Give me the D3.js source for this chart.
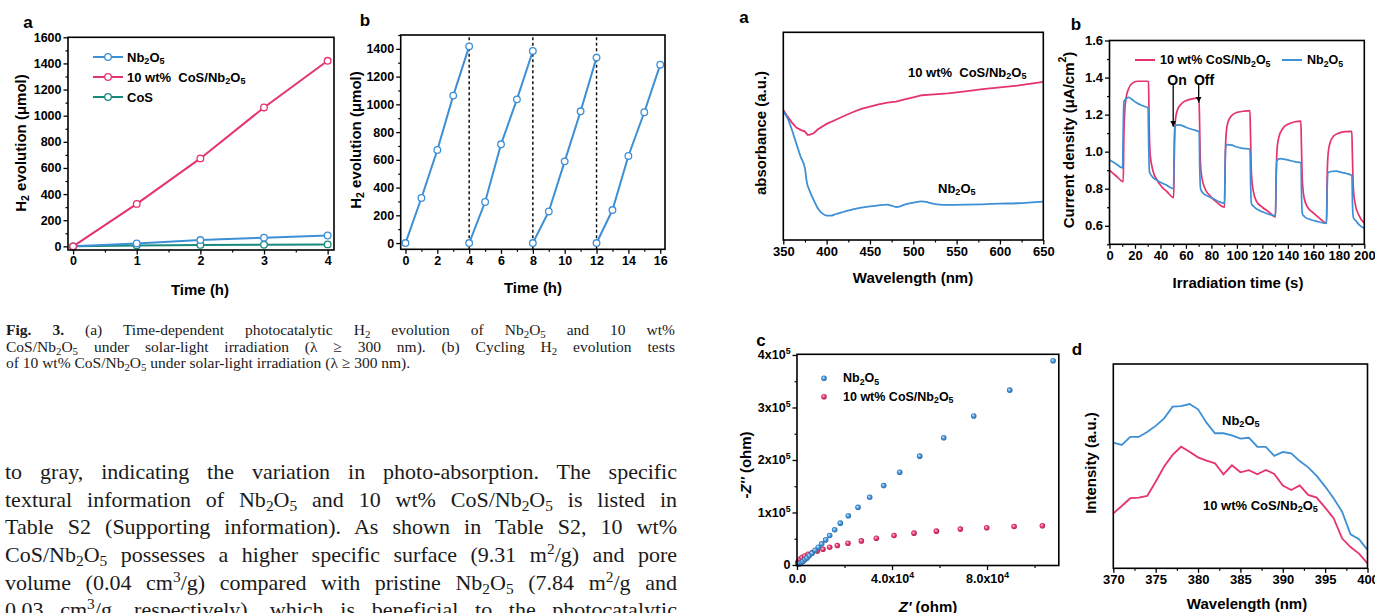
<!DOCTYPE html>
<html><head><meta charset="utf-8">
<script src="https://cdn.jsdelivr.net/npm/d3@7"></script>
<style>
html,body{margin:0;padding:0;background:#fff;width:1375px;height:613px;overflow:hidden;}
#chart{position:absolute;left:0;top:0;}
.ln{position:absolute;font-family:"Liberation Serif","Times New Roman",serif;color:#1a1a1a;text-align:justify;text-align-last:justify;white-space:normal;overflow:visible;}
.ln.last{text-align-last:left;}
.ln sub{font-size:0.7em;vertical-align:-0.28em;line-height:0;}
.ln sup{font-size:0.7em;vertical-align:0.5em;line-height:0;}
</style></head><body>
<svg id="chart" width="1375" height="613"></svg>
<div id="text"></div>
<script>
// ---------- DATA ----------
// Fig 3a : time-dependent H2 evolution
const timeH = [0, 1, 2, 3, 4];
const h2Nb = [0, 22, 48, 66, 83];
const h2CoSNb = [0, 325, 673, 1063, 1420];
const h2CoS = [0, 7, 11, 12, 15];

// Fig 3b : cycling tests
const cycleTime = [[0,1,2,3,4],[4,5,6,7,8],[8,9,10,11,12],[12,13,14,15,16]];
const cycleH2 = [[0,325,671,1063,1418],[0,296,712,1036,1385],[0,228,589,950,1337],[0,238,628,943,1286]];
const cycleBreaks = [4, 8, 12];

// UV-vis absorbance (a.u.)
const absWl = [350,355,360,365,370,375,378,380,385,390,400,410,420,430,440,450,460,470,480,490,500,510,520,540,560,580,600,620,650];
const absCoSNb = [62.6,59.4,56.5,54.1,53.0,52.2,50.6,50.6,51.4,53.3,55.9,57.8,59.7,61.5,63.1,64.2,65.3,66.1,66.6,67.7,68.7,69.7,70.0,70.6,71.6,72.6,73.5,74.3,76.1];
const absWlNb = [350,355,360,365,370,375,377,380,385,390,395,400,405,410,420,430,440,450,460,470,475,480,485,490,500,510,515,520,530,540,560,580,600,620,650];
const absNb = [61.8,58.6,53.0,46.5,40.1,34.5,28.1,24.1,19.3,15.2,12.8,11.7,11.7,12.4,13.6,14.8,15.6,16.2,16.7,17.0,16.5,15.9,16.2,17.0,18.0,18.6,18.3,17.7,17.0,16.9,17.0,17.2,17.5,17.7,18.5];

// Transient photocurrent (uA/cm2)
const pcTimeCoSNb = [0,5,10,10.8,11.2,12,13,15,18,22,30,30.6,31.2,32,34,37,41,45,50.4,50.8,51.5,53,56,60,65,70.2,70.6,71.3,72.5,75,79,84,90.3,90.8,91.6,93,96,100,105,110.2,110.6,111.4,112.8,115.5,120,125,130.3,130.8,131.6,133,136,140,145,150.2,150.6,151.4,152.8,155.5,160,165,170.3,170.8,171.6,173,176,180,185,190.2,190.6,191.4,192.8,195.5,200];
const pcCoSNb = [0.901,0.87,0.84,0.838,1.05,1.22,1.29,1.34,1.37,1.38,1.38,1.378,1.12,0.98,0.90,0.85,0.81,0.785,0.752,0.95,1.15,1.22,1.255,1.275,1.285,1.29,1.2,0.95,0.86,0.80,0.76,0.728,0.70,0.95,1.10,1.16,1.195,1.212,1.218,1.222,1.12,0.88,0.79,0.73,0.70,0.675,0.648,0.86,1.02,1.08,1.125,1.148,1.16,1.165,1.05,0.84,0.75,0.70,0.67,0.64,0.615,0.85,0.99,1.045,1.085,1.10,1.108,1.11,1.0,0.80,0.72,0.66,0.615];
const pcTimeNb = [0,5,10.3,10.7,11.3,13,15,18,21,25,30.3,30.7,31.4,33,36,40,45,50.3,50.7,51.3,53,56,60,65,70.4,70.8,71.5,73,77,82,86,90.3,90.7,91.3,93,96,100,105,110.3,110.7,111.4,113,117,122,130.3,130.7,131.3,134,138,142,146,150.3,150.7,151.4,153,157,162,170.4,170.8,171.4,174,178,182,186,190.3,190.7,191.4,193,196,200];
const pcNb = [0.955,0.935,0.912,1.10,1.27,1.285,1.293,1.28,1.265,1.25,1.236,1.05,0.89,0.87,0.85,0.835,0.818,0.80,1.0,1.135,1.145,1.143,1.132,1.12,1.107,0.92,0.80,0.78,0.76,0.745,0.73,0.722,0.9,1.03,1.038,1.035,1.025,1.018,1.012,0.85,0.72,0.705,0.685,0.67,0.655,0.82,0.952,0.962,0.958,0.951,0.945,0.94,0.78,0.665,0.65,0.635,0.625,0.613,0.78,0.887,0.893,0.895,0.888,0.882,0.872,0.72,0.645,0.63,0.605,0.585];

// EIS Nyquist (ohm)
const eisZreNb = [560,1120,1820,2530,3370,4210,5190,6320,7580,8980,10390,12070,13750,15860,18250,21610,25680,30600,36490,43230,51650,61750,74390,89540,107800];
const eisZimNb = [1300,2550,4500,7000,10200,13400,17900,22300,28100,33800,40200,47800,56100,67000,79700,93800,109700,128900,151200,176700,207300,242400,283900,333000,389100];
const eisZreCoSNb = [280,700,1260,2100,3230,4630,6460,8560,10950,13750,16980,21470,27090,33400,40840,49260,58670,68770,79860,91400,103300];
const eisZimCoSNb = [4500,7650,10800,14000,17200,20400,23600,26800,30000,33800,37000,41500,45900,51000,56100,60600,64400,68300,70800,73400,74600];

// PL spectra (a.u.)
const plWl = [370,371,372,373,374,375,376,377,378,379,380,381,382,383,384,385,386,387,388,389,390,391,392,393,394,395,396,397,398,399,400];
const plNb = [61.5,60.4,64.3,64.3,66.7,69.7,73.4,79.1,79.4,80.4,77.8,71.3,66.1,66.1,65.1,63.5,63.9,59.5,59.4,55.0,56.9,56.3,52.5,49.4,45.2,40.0,34.3,27.7,16.6,14.2,9.0];
const plCoSNb = [26.9,30.5,34.3,34.6,35.4,42.4,49.8,55.5,59.5,57.1,54.3,52.7,51.4,46.0,50.4,47.0,48.0,46.0,48.1,46.2,40.5,38.3,40.6,35.9,34.6,29.7,24.5,14.7,10.4,7.2,2.4];

// tick labels
const laXTicks = [0,1,2,3,4];
const laYTicks = [0,200,400,600,800,1000,1200,1400,1600];
const lbXTicks = [0,2,4,6,8,10,12,14,16];
const lbYTicks = [0,200,400,600,800,1000,1200,1400];
const raXTicks = [350,400,450,500,550,600,650];
const rbXTicks = [0,20,40,60,80,100,120,140,160,180,200];
const rbYTicks = [0.6,0.8,1.0,1.2,1.4,1.6];
const rcXTicks = [0,40000,80000];
const rcXLabels = ["0.0","4.0x10^{4}","8.0x10^{4}"];
const rcYTicks = [0,100000,200000,300000,400000];
const rcYLabels = ["0","1x10^{5}","2x10^{5}","3x10^{5}","4x10^{5}"];
const rdXTicks = [370,375,380,385,390,395,400];

// text
const captionLines = [
  '<b>Fig. 3.</b> (a) Time-dependent photocatalytic H<sub>2</sub> evolution of Nb<sub>2</sub>O<sub>5</sub> and 10 wt%',
  'CoS/Nb<sub>2</sub>O<sub>5</sub> under solar-light irradiation (λ ≥ 300 nm). (b) Cycling H<sub>2</sub> evolution tests',
  'of 10 wt% CoS/Nb<sub>2</sub>O<sub>5</sub> under solar-light irradiation (λ ≥ 300 nm).'
];
const bodyLines = [
  'to gray, indicating the variation in photo-absorption. The specific',
  'textural information of Nb<sub>2</sub>O<sub>5</sub> and 10 wt% CoS/Nb<sub>2</sub>O<sub>5</sub> is listed in',
  'Table S2 (Supporting information). As shown in Table S2, 10 wt%',
  'CoS/Nb<sub>2</sub>O<sub>5</sub> possesses a higher specific surface (9.31 m<sup>2</sup>/g) and pore',
  'volume (0.04 cm<sup>3</sup>/g) compared with pristine Nb<sub>2</sub>O<sub>5</sub> (7.84 m<sup>2</sup>/g and',
  '0.03 cm<sup>3</sup>/g, respectively), which is beneficial to the photocatalytic'
];

// ---------- DRAW ----------
const BLUE = "#3d8fd6", PINK = "#e6336e", TEAL = "#178a7c";
const FONT = "'Liberation Sans', Arial, Helvetica, sans-serif";
const svg = d3.select('#chart');

function rich(sel, str, fs) {
  const parts = str.split(/(_\{[^}]*\}|\^\{[^}]*\}|\*[^*]*\*)/).filter(s => s.length);
  let shift = 0;
  parts.forEach(p => {
    let t, target = 0, size = null, italic = false;
    if (p.startsWith('_{')) { t = p.slice(2, -1); target = fs * 0.3; size = fs * 0.7; }
    else if (p.startsWith('^{')) { t = p.slice(2, -1); target = -fs * 0.4; size = fs * 0.7; }
    else if (p.startsWith('*')) { t = p.slice(1, -1); italic = true; }
    else t = p;
    const ts = sel.append('tspan').text(t);
    if (target !== shift) { ts.attr('dy', target - shift); shift = target; }
    if (size) ts.attr('font-size', size);
    if (italic) ts.attr('font-style', 'italic');
  });
}
function label(x, y, str, fs, opts = {}) {
  const t = svg.append('text')
    .attr('x', x).attr('y', y)
    .attr('font-family', FONT).attr('font-weight', 'bold')
    .attr('font-size', fs).attr('fill', '#000')
    .attr('dominant-baseline', 'central')
    .attr('text-anchor', opts.anchor || 'start')
    .style('white-space', 'pre');
  if (opts.rotate) t.attr('transform', `rotate(-90,${x},${y})`);
  rich(t, str, fs);
  return t;
}
function axis(orient, scale, pos, major, minor, fmt, fs) {
  const mk = orient === 'bottom' ? d3.axisBottom : d3.axisLeft;
  const tr = orient === 'bottom' ? `translate(0,${pos})` : `translate(${pos},0)`;
  if (minor) {
    const gm = svg.append('g').attr('transform', tr)
      .call(mk(scale).tickValues(minor).tickSize(2.5).tickSizeOuter(0).tickFormat(''));
    gm.select('.domain').remove();
    gm.selectAll('line').attr('stroke', '#000').attr('stroke-width', 1.2);
  }
  const g = svg.append('g').attr('transform', tr)
    .call(mk(scale).tickValues(major).tickSize(4.5).tickSizeOuter(0).tickPadding(2).tickFormat(fmt || (d => d)));
  g.select('.domain').remove();
  g.selectAll('line').attr('stroke', '#000').attr('stroke-width', 1.3);
  g.selectAll('text').attr('font-family', FONT).attr('font-weight', 'bold')
    .attr('font-size', fs).attr('fill', '#000');
  return g;
}
function frame(x, y) {
  svg.append('rect')
    .attr('x', x.range()[0]).attr('y', y.range()[1])
    .attr('width', x.range()[1] - x.range()[0]).attr('height', y.range()[0] - y.range()[1])
    .attr('fill', 'none').attr('stroke', '#000').attr('stroke-width', 1.6);
}
function range(a, b, s) { return d3.range(a, b + s / 2, s); }
function openMarkers(xs, ys, x, y, color) {
  svg.append('g').selectAll('circle').data(xs).join('circle')
    .attr('cx', (d) => x(d)).attr('cy', (d, i) => y(ys[i])).attr('r', 3.3)
    .attr('fill', '#fff').attr('stroke', color).attr('stroke-width', 1.3);
}

// ===== Left panel a =====
{
  const x = d3.scaleLinear().domain([-0.08, 4.1]).range([68, 334]);
  const y = d3.scaleLinear().domain([-28, 1600]).range([250, 37.3]);
  const series = [[h2CoS, TEAL], [h2Nb, BLUE], [h2CoSNb, PINK]];
  series.forEach(([vals, c]) => {
    svg.append('path').datum(vals)
      .attr('d', d3.line().x((d, i) => x(timeH[i])).y(d => y(d)))
      .attr('fill', 'none').attr('stroke', c).attr('stroke-width', 2);
    openMarkers(timeH, vals, x, y, c);
  });
  axis('bottom', x, 250, laXTicks, range(0.5, 3.5, 1), null, 12.5);
  axis('left', y, 68, laYTicks, range(100, 1500, 200), null, 12.5);
  frame(x, y);
  const leg = [["Nb_{2}O_{5}", BLUE], ["10 wt%  CoS/Nb_{2}O_{5}", PINK], ["CoS", TEAL]];
  leg.forEach(([t, c], i) => {
    const yy = 57 + i * 20;
    svg.append('line').attr('x1', 93).attr('x2', 123).attr('y1', yy).attr('y2', yy)
      .attr('stroke', c).attr('stroke-width', 2);
    svg.append('circle').attr('cx', 108).attr('cy', yy).attr('r', 3.3)
      .attr('fill', '#fff').attr('stroke', c).attr('stroke-width', 1.3);
    label(127, yy, t, 13);
  });
  label(28, 22, "a", 17, { anchor: 'middle' });
  label(20, 143, "H_{2} evolution (μmol)", 15, { anchor: 'middle', rotate: true });
  label(200, 289, "Time (h)", 15, { anchor: 'middle' });
}

// ===== Left panel b =====
{
  const x = d3.scaleLinear().domain([-0.3, 16.3]).range([400.7, 665]);
  const y = d3.scaleLinear().domain([-45, 1500]).range([249.3, 35]);
  cycleBreaks.forEach(t => {
    svg.append('line').attr('x1', x(t)).attr('x2', x(t)).attr('y1', y.range()[0]).attr('y2', y.range()[1])
      .attr('stroke', '#000').attr('stroke-width', 1.4).attr('stroke-dasharray', '3,2.5');
  });
  cycleTime.forEach((ts, k) => {
    svg.append('path').datum(cycleH2[k])
      .attr('d', d3.line().x((d, i) => x(ts[i])).y(d => y(d)))
      .attr('fill', 'none').attr('stroke', BLUE).attr('stroke-width', 2);
    openMarkers(ts, cycleH2[k], x, y, BLUE);
  });
  axis('bottom', x, 249.3, lbXTicks, range(1, 15, 2), null, 12.5);
  axis('left', y, 400.7, lbYTicks, range(100, 1500, 200), null, 12.5);
  frame(x, y);
  label(365, 20, "b", 17, { anchor: 'middle' });
  label(355, 140, "H_{2} evolution (μmol)", 15, { anchor: 'middle', rotate: true });
  label(533, 287, "Time (h)", 15, { anchor: 'middle' });
}

// ===== Right panel a: absorbance =====
{
  const x = d3.scaleLinear().domain([350, 650]).range([783.3, 1043.3]);
  const y = d3.scaleLinear().domain([0, 100]).range([240, 32.3]);
  svg.append('path').datum(absCoSNb)
    .attr('d', d3.line().x((d, i) => x(absWl[i])).y(d => y(d)))
    .attr('fill', 'none').attr('stroke', PINK).attr('stroke-width', 1.8);
  svg.append('path').datum(absNb)
    .attr('d', d3.line().x((d, i) => x(absWlNb[i])).y(d => y(d)).curve(d3.curveMonotoneX))
    .attr('fill', 'none').attr('stroke', BLUE).attr('stroke-width', 1.8);
  axis('bottom', x, 240, raXTicks, range(375, 625, 50), null, 13);
  frame(x, y);
  label(908, 72, "10 wt%  CoS/Nb_{2}O_{5}", 13);
  label(938, 188, "Nb_{2}O_{5}", 13);
  label(744, 17, "a", 17, { anchor: 'middle' });
  label(760, 133, "absorbance (a.u.)", 15, { anchor: 'middle', rotate: true });
  label(913, 277, "Wavelength (nm)", 15, { anchor: 'middle' });
}

// ===== Right panel b: photocurrent =====
{
  const x = d3.scaleLinear().domain([0, 200]).range([1109.5, 1364.3]);
  const y = d3.scaleLinear().domain([0.5, 1.6]).range([244.3, 40.5]);
  svg.append('path').datum(pcCoSNb)
    .attr('d', d3.line().x((d, i) => x(pcTimeCoSNb[i])).y(d => y(d)).curve(d3.curveMonotoneX))
    .attr('fill', 'none').attr('stroke', PINK).attr('stroke-width', 1.7);
  svg.append('path').datum(pcNb)
    .attr('d', d3.line().x((d, i) => x(pcTimeNb[i])).y(d => y(d)).curve(d3.curveMonotoneX))
    .attr('fill', 'none').attr('stroke', BLUE).attr('stroke-width', 1.7);
  axis('bottom', x, 244.3, rbXTicks, range(10, 190, 20), null, 13);
  axis('left', y, 1109.5, rbYTicks, range(0.5, 1.5, 0.2), d3.format('.1f'), 13);
  frame(x, y);
  // legend
  svg.append('line').attr('x1', 1135).attr('x2', 1155).attr('y1', 60).attr('y2', 60).attr('stroke', PINK).attr('stroke-width', 2);
  label(1160, 60, "10 wt% CoS/Nb_{2}O_{5}", 12.5);
  svg.append('line').attr('x1', 1282).attr('x2', 1302).attr('y1', 60).attr('y2', 60).attr('stroke', BLUE).attr('stroke-width', 2);
  label(1307, 60, "Nb_{2}O_{5}", 12.5);
  // On / Off arrows
  const defs = svg.append('defs');
  defs.append('marker').attr('id', 'arr').attr('viewBox', '0 0 10 10').attr('refX', 10).attr('refY', 5)
    .attr('markerWidth', 6).attr('markerHeight', 7).attr('markerUnits', 'userSpaceOnUse').attr('orient', 'auto')
    .append('path').attr('d', 'M0,0 L10,5 L0,10 Z').attr('fill', '#000');
  [[50, 1.362, 1.135], [70, 1.362, 1.265]].forEach(([t, a, b]) => {
    svg.append('line').attr('x1', x(t)).attr('x2', x(t)).attr('y1', y(a)).attr('y2', y(b))
      .attr('stroke', '#000').attr('stroke-width', 1.3).attr('marker-end', 'url(#arr)');
  });
  label(1177, 80, "On", 14, { anchor: 'middle' });
  label(1204, 80, "Off", 14, { anchor: 'middle' });
  label(1076, 24, "b", 17, { anchor: 'middle' });
  label(1068, 140, "Current density (μA/cm^{2})", 15, { anchor: 'middle', rotate: true });
  label(1238, 282, "Irradiation time (s)", 15, { anchor: 'middle' });
}

// ===== Right panel c: EIS =====
{
  const x = d3.scaleLinear().domain([0, 110200]).range([797, 1058.8]);
  const y = d3.scaleLinear().domain([-1000, 401300]).range([565.5, 354.3]);
  const defs = svg.append('defs');
  [["gBlue", "#d6ebfb", BLUE, "#25639f"], ["gPink", "#fbd3e0", PINK, "#a51f4b"]].forEach(([id, a, b, c]) => {
    const g = defs.append('radialGradient').attr('id', id).attr('cx', '50%').attr('cy', '50%').attr('r', '55%').attr('fx', '35%').attr('fy', '35%');
    g.append('stop').attr('offset', '0%').attr('stop-color', a);
    g.append('stop').attr('offset', '55%').attr('stop-color', b);
    g.append('stop').attr('offset', '100%').attr('stop-color', c);
  });
  svg.append('g').selectAll('circle').data(eisZreCoSNb).join('circle')
    .attr('cx', d => x(d)).attr('cy', (d, i) => y(eisZimCoSNb[i])).attr('r', 2.8).attr('fill', 'url(#gPink)');
  svg.append('g').selectAll('circle').data(eisZreNb).join('circle')
    .attr('cx', d => x(d)).attr('cy', (d, i) => y(eisZimNb[i])).attr('r', 2.8).attr('fill', 'url(#gBlue)');
  const gx = axis('bottom', x, 565.5, rcXTicks, [20000, 60000, 100000], null, 12.5);
  gx.selectAll('text').each(function (d, i) { const t = d3.select(this); t.text(''); t.attr('dy', '0.9em'); rich(t, rcXLabels[i], 12.5); });
  const gy = axis('left', y, 797, rcYTicks, range(50000, 350000, 100000), null, 12.5);
  gy.selectAll('text').each(function (d, i) { const t = d3.select(this); t.text(''); rich(t, rcYLabels[i], 12.5); });
  frame(x, y);
  svg.append('circle').attr('cx', 824).attr('cy', 378.3).attr('r', 2.8).attr('fill', 'url(#gBlue)');
  label(843, 378.3, "Nb_{2}O_{5}", 12.5);
  svg.append('circle').attr('cx', 824).attr('cy', 396.7).attr('r', 2.8).attr('fill', 'url(#gPink)');
  label(843, 396.7, "10 wt% CoS/Nb_{2}O_{5}", 12.5);
  label(761, 340, "c", 17, { anchor: 'middle' });
  label(745, 465, "-*Z''* (ohm)", 15, { anchor: 'middle', rotate: true });
  label(928, 606, "*Z'* (ohm)", 15, { anchor: 'middle' });
}

// ===== Right panel d: PL =====
{
  const x = d3.scaleLinear().domain([370, 400]).range([1113.3, 1367.5]);
  const y = d3.scaleLinear().domain([0, 100]).range([568.3, 364]);
  svg.append('path').datum(plNb)
    .attr('d', d3.line().x((d, i) => x(plWl[i])).y(d => y(d)))
    .attr('fill', 'none').attr('stroke', BLUE).attr('stroke-width', 1.8);
  svg.append('path').datum(plCoSNb)
    .attr('d', d3.line().x((d, i) => x(plWl[i])).y(d => y(d)))
    .attr('fill', 'none').attr('stroke', PINK).attr('stroke-width', 1.8);
  axis('bottom', x, 568.3, rdXTicks, range(372.5, 397.5, 5), null, 13);
  frame(x, y);
  label(1222, 420, "Nb_{2}O_{5}", 13);
  label(1203, 505, "10 wt% CoS/Nb_{2}O_{5}", 13);
  label(1077, 349, "d", 17, { anchor: 'middle' });
  label(1090, 463, "Intensity (a.u.)", 15, { anchor: 'middle', rotate: true });
  label(1247, 603, "Wavelength (nm)", 15, { anchor: 'middle' });
}

// ===== Text blocks =====
const tx = d3.select('#text');
captionLines.forEach((h, i) => {
  tx.append('div').attr('class', 'ln' + (i === captionLines.length - 1 ? ' last' : ''))
    .style('left', '6px').style('width', '669px')
    .style('top', (330.7 + i * 16.5 - 8.25) + 'px')
    .style('font-size', '15.5px').style('line-height', '16.5px')
    .html(h);
});
bodyLines.forEach((h, i) => {
  tx.append('div').attr('class', 'ln')
    .style('left', '5px').style('width', '672px')
    .style('top', (471.7 + i * 27.7 - 13.85) + 'px')
    .style('font-size', '22px').style('line-height', '27.7px')
    .html(h);
});
</script>
</body></html>
